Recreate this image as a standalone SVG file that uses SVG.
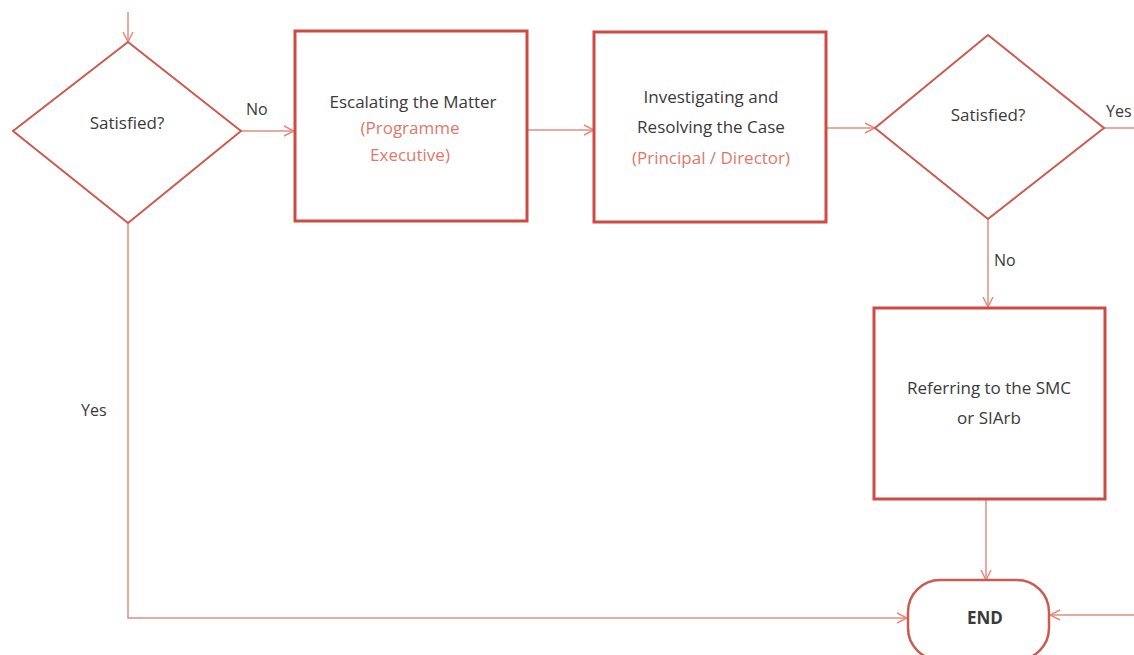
<svg xmlns="http://www.w3.org/2000/svg" width="1134" height="655" viewBox="0 0 1134 655">
<defs>
<marker id="arr" viewBox="0 0 12 12" refX="11" refY="6" markerWidth="12" markerHeight="12" markerUnits="userSpaceOnUse" orient="auto">
<path d="M1,1 L11,6 L1,11" fill="none" stroke="#e58a7c" stroke-width="1.5"/>
</marker>
<style>
.box{fill:#fff;stroke:#cf4a43;stroke-width:3}
.dia{fill:#fff;stroke:#cd5a4f;stroke-width:2}
.con{fill:none;stroke:#e08f84;stroke-width:1.5}
.t{font-family:"Open Sans","Liberation Sans",sans-serif;font-size:17px;fill:#3a3a3a;text-anchor:middle}
.s{fill:#e0786a}
.lbl{font-family:"Open Sans","Liberation Sans",sans-serif;font-size:16px;fill:#3a3a3a}
</style>
</defs>
<rect width="1134" height="655" fill="#fff"/>
<g id="connectors">
<line class="con" x1="128" y1="12" x2="128" y2="42" marker-end="url(#arr)"/>
<line class="con" x1="241" y1="131" x2="294" y2="131" marker-end="url(#arr)"/>
<line class="con" x1="527" y1="130" x2="594" y2="130" marker-end="url(#arr)"/>
<line class="con" x1="826" y1="128" x2="875" y2="128" marker-end="url(#arr)"/>
<line class="con" x1="1104" y1="128" x2="1134" y2="128"/>
<line class="con" x1="988" y1="219" x2="988" y2="307" marker-end="url(#arr)"/>
<line class="con" x1="986" y1="500" x2="986" y2="580" marker-end="url(#arr)"/>
<polyline class="con" points="128,223 128,618 907,618" marker-end="url(#arr)"/>
<line class="con" x1="1134" y1="615" x2="1050" y2="615" marker-end="url(#arr)"/>
<text class="lbl" x="246" y="115">No</text>
<text class="lbl" x="1106" y="117">Yes</text>
<text class="lbl" x="994" y="266">No</text>
<text class="lbl" x="81" y="416">Yes</text>
</g>
<g id="decision1">
<polygon class="dia" points="128,42 241,131 128,223 13,131"/>
<text class="t" x="127" y="129">Satisfied?</text>
</g>
<g id="escalating">
<rect class="box" x="295" y="31" width="232" height="190"/>
<text class="t" x="413" y="108">Escalating the Matter</text>
<text class="t s" x="410" y="134">(Programme</text>
<text class="t s" x="410" y="161">Executive)</text>
</g>
<g id="investigating">
<rect class="box" x="594" y="32" width="232" height="190"/>
<text class="t" x="711" y="103">Investigating and</text>
<text class="t" x="711" y="133">Resolving the Case</text>
<text class="t s" x="711" y="164">(Principal / Director)</text>
</g>
<g id="decision2">
<polygon class="dia" points="988,35 1104,128 988,219 875,128"/>
<text class="t" x="988" y="121">Satisfied?</text>
</g>
<g id="referring">
<rect class="box" x="874" y="308" width="231" height="191"/>
<text class="t" x="989" y="394">Referring to the SMC</text>
<text class="t" x="989" y="424">or SIArb</text>
</g>
<g id="end">
<rect x="908" y="580" width="141" height="80" rx="32" ry="32" fill="#fff" stroke="#cd5a4f" stroke-width="2.5"/>
<text class="t" x="985" y="624" font-weight="bold" font-size="18">END</text>
</g>
</svg>
